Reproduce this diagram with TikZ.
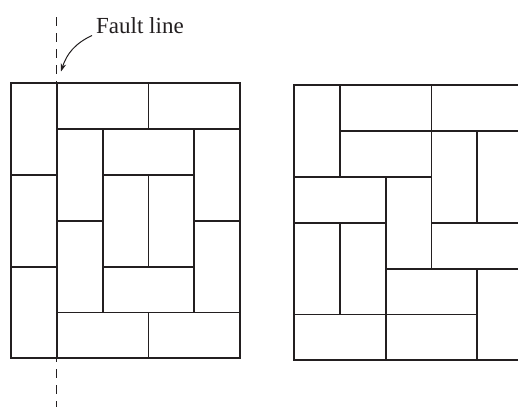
\documentclass[tikz,border=0pt]{standalone}
\usepackage{fontspec}
\setmainfont{Liberation Serif}
\usetikzlibrary{arrows.meta}
\definecolor{ink}{HTML}{231F20}
\tikzset{
  tile/.style={draw=ink, line width=1.8pt, line join=miter},
  fault/.style={draw=ink, line width=1.1pt, dash pattern=on 9pt off 7pt},
  pointer/.style={draw=ink, line width=1pt, -{Stealth[length=8pt,width=5.5pt]}},
  label/.style={font=\fontsize{23}{26}\selectfont, text=ink, inner sep=0pt, anchor=base west}
}
\newcommand{\domino}[4]{\draw[tile] (#1,#2) rectangle ++(#3,#4);}
\begin{document}
\begin{tikzpicture}[x=1pt,y=-1pt]
\useasboundingbox (0,0) rectangle (518,407);
\clip (0,0) rectangle (518,407);
\fill[white] (0,0) rectangle (518,407);
% left tiling
\begin{scope}[shift={(11,83.3)}, x=45.8pt, y=-45.83pt]
\domino{0}{0}{1}{2}\domino{0}{2}{1}{2}\domino{0}{4}{1}{2}
\domino{1}{0}{2}{1}\domino{3}{0}{2}{1}
\domino{1}{1}{1}{2}\domino{1}{3}{1}{2}
\domino{2}{1}{2}{1}
\domino{4}{1}{1}{2}\domino{4}{3}{1}{2}
\domino{2}{2}{1}{2}\domino{3}{2}{1}{2}
\domino{2}{4}{2}{1}
\domino{1}{5}{2}{1}\domino{3}{5}{2}{1}
\end{scope}
% right tiling
\begin{scope}[shift={(294,85.3)}, x=45.8pt, y=-45.83pt]
\domino{0}{0}{1}{2}\domino{1}{0}{2}{1}\domino{3}{0}{2}{1}
\domino{1}{1}{2}{1}\domino{3}{1}{1}{2}\domino{4}{1}{1}{2}
\domino{0}{2}{2}{1}\domino{2}{2}{1}{2}
\domino{0}{3}{1}{2}\domino{1}{3}{1}{2}\domino{3}{3}{2}{1}
\domino{2}{4}{2}{1}\domino{4}{4}{1}{2}
\domino{0}{5}{2}{1}\domino{2}{5}{2}{1}
\end{scope}
% fault line
\coordinate (ftop) at (56.8,17);
\coordinate (fbot) at (56.8,407);
\draw[fault] (ftop) -- (fbot);
\node[label] (lbl) at (96,33.3) {Fault line};
\coordinate (astart) at (92,35.5);
\coordinate (atip) at (61,71.5);
\draw[pointer] (astart) to[out=205, in=72] (atip);
\end{tikzpicture}
\end{document}
